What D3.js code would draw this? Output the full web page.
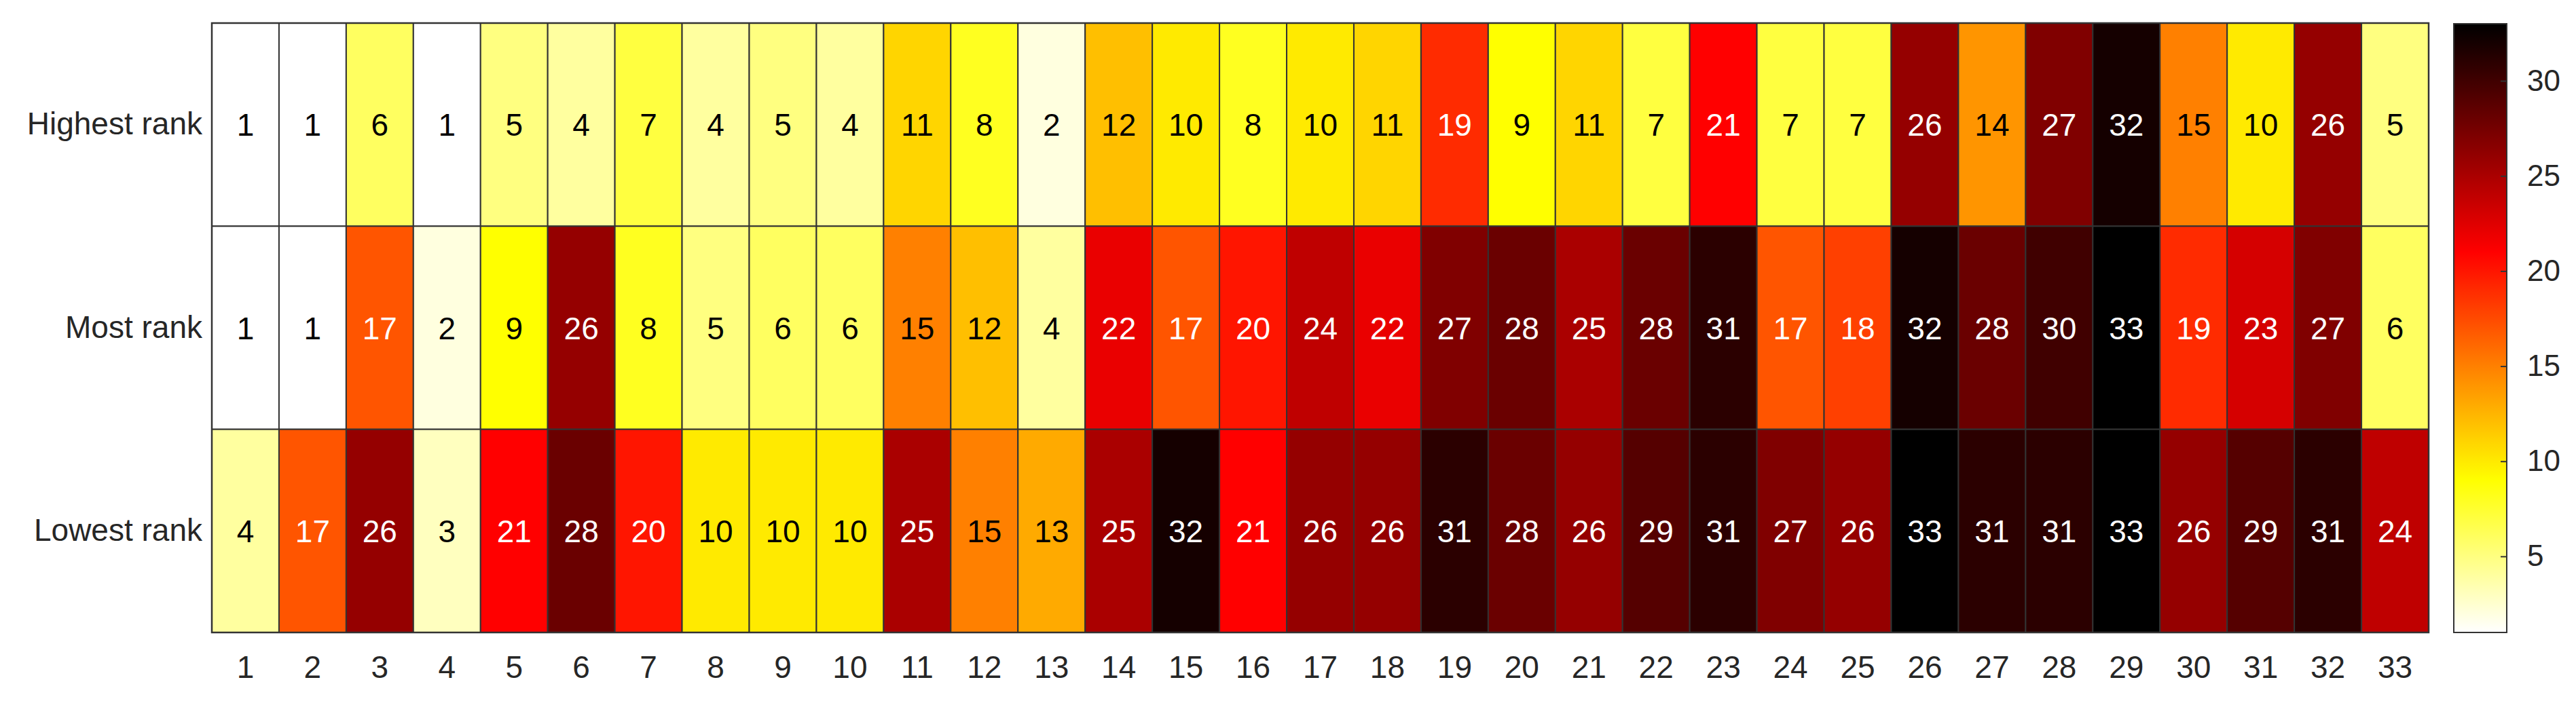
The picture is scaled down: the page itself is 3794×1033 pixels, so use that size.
<!DOCTYPE html>
<html><head><meta charset="utf-8">
<script src="https://cdn.jsdelivr.net/npm/d3@7"></script>
<style>body{margin:0;background:#fff}text{font-family:"Liberation Sans",Arial,sans-serif}</style>
</head><body><svg id="c" width="3794" height="1033"></svg>
<script>
const columns = d3.range(1,34).map(String);
const rows = ["Highest rank","Most rank","Lowest rank"];
const highest = [1,1,6,1,5,4,7,4,5,4,11,8,2,12,10,8,10,11,19,9,11,7,21,7,7,26,14,27,32,15,10,26,5];
const most = [1,1,17,2,9,26,8,5,6,6,15,12,4,22,17,20,24,22,27,28,25,28,31,17,18,32,28,30,33,19,23,27,6];
const lowest = [4,17,26,3,21,28,20,10,10,10,25,15,13,25,32,21,26,26,31,28,26,29,31,27,26,33,31,31,33,26,29,31,24];
const colorTicks = [5,10,15,20,25,30];
const series = [highest, most, lowest];

const svg = d3.select("#c");
const L=312, R=3577, T=34, B=932;
const x = d3.scaleBand().domain(columns).range([L,R]);
const y = d3.scaleBand().domain(rows).range([T,B]);
function hotR(v){
  const s = 1-(v-1)/32;
  const c = a=>Math.max(0,Math.min(1,a));
  return d3.rgb(255*c(s/0.375),255*c((s-0.375)/0.375),255*c((s-0.75)/0.25));
}
const cells=[];
series.forEach((arr,ri)=>arr.forEach((v,ci)=>cells.push({r:rows[ri],c:columns[ci],v})));
const g=svg.append("g");
g.selectAll("rect").data(cells).join("rect")
 .attr("x",d=>x(d.c)).attr("y",d=>y(d.r)).attr("width",x.bandwidth()).attr("height",y.bandwidth())
 .attr("fill",d=>hotR(d.v)).attr("stroke","#333").attr("stroke-width",2);
g.selectAll("text").data(cells).join("text")
 .attr("x",d=>x(d.c)+x.bandwidth()/2).attr("y",d=>y(d.r)+y.bandwidth()/2)
 .attr("dy","0.36em").attr("text-anchor","middle").attr("font-size",46)
 .attr("fill",d=>d.v>=17?"#fff":"#000").text(d=>d.v);
svg.append("rect").attr("x",L).attr("y",T).attr("width",R-L).attr("height",B-T).attr("fill","none").attr("stroke","#333").attr("stroke-width",2.5);
// axes
svg.append("g").attr("transform",`translate(0,${B})`).call(d3.axisBottom(x).tickSize(0).tickPadding(26))
 .call(a=>{a.select(".domain").remove();a.selectAll("text").attr("font-size",46).attr("fill","#262626").attr("dy","0.9em");});
svg.append("g").attr("transform",`translate(${L},0)`).call(d3.axisLeft(y).tickSize(0).tickPadding(14))
 .call(a=>{a.select(".domain").remove();a.selectAll("text").attr("font-size",46).attr("fill","#262626");});
// colorbar
const cx0=3614, cx1=3692;
const cy=d3.scaleLinear().domain([1,33]).range([B,T+1]);
const defs=svg.append("defs");
const grad=defs.append("linearGradient").attr("id","hg").attr("x1",0).attr("y1",1).attr("x2",0).attr("y2",0);
d3.range(0,65).forEach(i=>{const v=1+32*i/64;grad.append("stop").attr("offset",i/64).attr("stop-color",hotR(v));});
svg.append("rect").attr("x",cx0).attr("y",cy(33)).attr("width",cx1-cx0).attr("height",cy(1)-cy(33))
 .attr("fill","url(#hg)").attr("stroke","#333").attr("stroke-width",2);
const ca=svg.append("g").attr("transform",`translate(${cx1},0)`).call(d3.axisRight(cy).tickValues(colorTicks).tickSize(-9).tickPadding(30));
ca.select(".domain").remove();
ca.selectAll("line").attr("stroke","#333").attr("stroke-width",2);
ca.selectAll("text").attr("font-size",44).attr("fill","#262626");
</script></body></html>
